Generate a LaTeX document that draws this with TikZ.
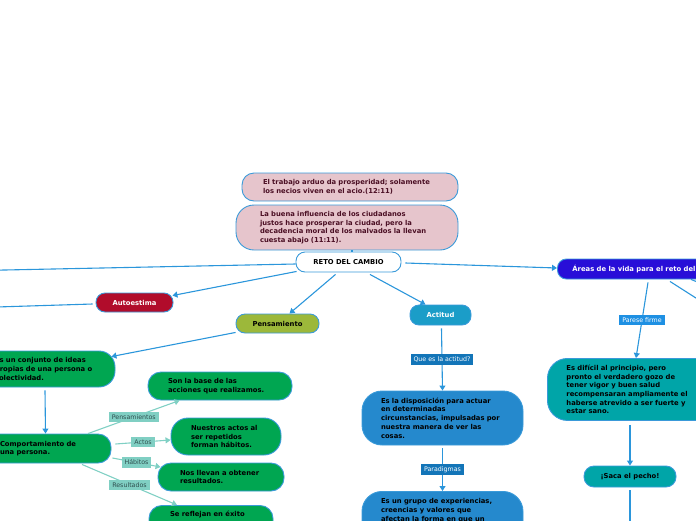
\documentclass[tikz,border=0pt]{standalone}
\usepackage{fontspec}
\setmainfont{DejaVu Sans}
\usetikzlibrary{arrows.meta,calc}
\definecolor{bordc}{RGB}{58,154,217}
\definecolor{linec}{RGB}{43,150,219}
\definecolor{pinkc}{RGB}{230,197,204}
\definecolor{pinktxt}{RGB}{75,15,36}
\definecolor{crimc}{RGB}{177,12,43}
\definecolor{olivec}{RGB}{156,184,58}
\definecolor{greenc}{RGB}{0,166,81}
\definecolor{actc}{RGB}{27,157,200}
\definecolor{dispc}{RGB}{37,137,205}
\definecolor{dlblc}{RGB}{19,117,184}
\definecolor{areac}{RGB}{40,14,216}
\definecolor{tealc}{RGB}{0,165,168}
\definecolor{parc}{RGB}{30,144,227}
\definecolor{tlblc}{RGB}{128,207,195}
\definecolor{tlbltxt}{RGB}{47,79,79}
\definecolor{tlinec}{RGB}{128,208,196}
\tikzset{
  box/.style={draw=bordc, line width=0.9pt, rounded corners=9pt, inner sep=0pt,
    font=\fontsize{6.8}{8.7}\selectfont\bfseries, align=left},
  conn/.style={draw=linec, line width=1.1pt, -{Triangle[length=5pt,width=6pt]}},
  plain/.style={draw=linec, line width=1.1pt},
  tconn/.style={draw=tlinec, line width=1.1pt, -{Triangle[length=5pt,width=6pt]}},
  tlbl/.style={fill=tlblc, text=tlbltxt, font=\fontsize{6.3}{7}\selectfont, inner xsep=3pt, inner ysep=2.5pt},
  dlbl/.style={fill=dlblc, text=white, font=\fontsize{6.3}{7}\selectfont, inner xsep=3pt, inner ysep=2.5pt},
  plbl/.style={fill=parc, text=white, font=\fontsize{6.3}{7}\selectfont, inner xsep=3pt, inner ysep=2.5pt}
}
\begin{document}
\begin{tikzpicture}[x=1pt,y=-1pt]
\useasboundingbox (0,0) rectangle (696,520);
\clip (0,0) rectangle (696,520);

% pink nodes
\node[box, fill=pinkc, text=pinktxt, minimum width=216pt, minimum height=28pt, text width=174pt, rounded corners=12pt] (p1) at (350,187)
  {El trabajo arduo da prosperidad; solamente\\los necios viven en el acio.(12:11)};
\node[box, fill=pinkc, text=pinktxt, minimum width=222pt, minimum height=45pt, text width=174pt, rounded corners=18pt] (p2) at (347,227.5)
  {La buena influencia de los ciudadanos\\justos hace prosperar la ciudad, pero la\\decadencia moral de los malvados la llevan\\cuesta abajo (11:11).};

\node[box, fill=white, text=black, minimum width=105pt, minimum height=20pt, rounded corners=9pt] (reto) at (348.5,262) {RETO DEL CAMBIO};

\node[box, fill=crimc, text=white, minimum width=77pt, minimum height=19pt] (auto) at (134.5,302.5) {Autoestima};
\node[box, fill=olivec, text=black, minimum width=83pt, minimum height=19pt] (pens) at (277.5,323.5) {Pensamiento};
\node[box, fill=actc, text=white, minimum width=61pt, minimum height=20pt] (act) at (440.5,315) {Actitud};

% green branch
\node[box, fill=greenc, text=black, minimum width=135pt, minimum height=36pt, text width=105pt, rounded corners=16pt] (conj) at (47.5,369)
  {Es un conjunto de ideas\\propias de una persona o\\colectividad.};
\node[box, fill=greenc, text=black, minimum width=131pt, minimum height=29pt, text width=91pt, rounded corners=13pt] (comp) at (45.5,448.5)
  {Comportamiento de\\una persona.};
\node[box, fill=greenc, text=black, minimum width=144pt, minimum height=28pt, text width=104pt, rounded corners=13pt] (son) at (220,386)
  {Son la base de las\\acciones que realizamos.};
\node[box, fill=greenc, text=black, minimum width=110pt, minimum height=37pt, text width=70pt, rounded corners=17pt] (nue) at (226,436.5)
  {Nuestros actos al\\ser repetidos\\forman hábitos.};
\node[box, fill=greenc, text=black, minimum width=126pt, minimum height=28pt, text width=82pt, rounded corners=13pt] (nos) at (221,477)
  {Nos llevan a obtener\\resultados.};
\node[box, fill=greenc, text=black, minimum width=124pt, inner ysep=6pt, rounded corners=13pt, anchor=north] (se) at (211,505)
  {\parbox[b][24pt][t]{82pt}{Se reflejan en éxito}};

% actitud branch
\node[box, fill=dispc, text=black, minimum width=161pt, minimum height=54pt, text width=123pt, rounded corners=20pt] (disp) at (442.5,418)
  {Es la disposición para actuar\\en determinadas\\circunstancias, impulsadas por\\nuestra manera de ver las\\cosas.};
\node[box, fill=dispc, text=black, minimum width=161pt, inner ysep=7pt, rounded corners=20pt, anchor=north] (grupo) at (442.5,491)
  {\parbox[b][40pt][t]{123pt}{Es un grupo de experiencias,\\creencias y valores que\\afectan la forma en que un}};

% areas branch
\node[box, fill=areac, text=white, minimum height=20pt, inner xsep=15pt, anchor=west] (areas) at (557,269)
  {Áreas de la vida para el reto del cambio};
\node[box, fill=tealc, text=black, minimum height=62pt, text width=150pt, inner xsep=19pt, rounded corners=20pt, anchor=north west] (fac) at (547,358)
  {Es difícil al principio, pero\\pronto el verdadero gozo de\\tener vigor y buen salud\\recompensaran ampliamente el\\haberse atrevido a ser fuerte y\\estar sano.};
\node[box, fill=tealc, text=black, minimum width=92pt, minimum height=21pt, rounded corners=10pt] (saca) at (630,476.5) {¡Saca el pecho!};

% free ends
\coordinate (offA) at (-10,270.3);
\coordinate (offB) at (-10,307.2);
\coordinate (offC) at (630,530);
\coordinate (offD) at (710,307);
\coordinate (offE) at (710,287);

% connectors
\draw[plain, line width=2pt] ($(p2.south)+(5,0)$) -- ($(reto.north)+(3.5,0)$);
\draw[plain] ($(reto.west)+(0,2)$) -- (offA);
\draw[conn] ($(reto.south west)+(1,-1)$) -- ($(auto.north east)+(-1,3)$);
\draw[plain] ($(auto.west)+(-3,1.5)$) -- (offB);
\draw[conn] ($(reto.south)+(-13,2)$) -- ($(pens.north)+(12,0)$);
\draw[conn] ($(reto.south)+(21.5,2)$) -- ($(act.north)+(-15,0)$);
\draw[conn] ($(reto.east)+(4,1)$) -- ($(areas.west)+(0,-1)$);
\draw[conn] ($(pens.south west)+(0,-1)$) -- ($(conj.north east)+(-4,6)$);
\draw[conn] ($(conj.south)+(-2.5,3)$) -- (comp.north);

\draw[tconn] ($(comp.north)+(42.5,0)$) -- node[tlbl]{Pensamientos} ($(son.south west)+(32,0)$);
\draw[tconn] ($(comp.east)+(4,-4.5)$) -- node[tlbl]{Actos} ($(nue.west)+(0,3.5)$);
\draw[tconn] ($(comp.east)+(1,9.5)$) -- node[tlbl]{Hábitos} ($(nos.west)+(3,-10)$);
\draw[tconn] ($(comp.south)+(36.5,1)$) -- node[tlbl]{Resultados} ($(se.north)+(-34,0)$);

\draw[conn] ($(act.south)+(1,3)$) -- node[dlbl]{Que es la actitud?} (disp.north);
\draw[conn] ($(disp.south)+(0,3)$) -- node[dlbl]{Paradigmas} (grupo.north);

\draw[conn] ($(areas.south west)+(91,3)$) -- node[plbl]{Parese firme} ($(fac.north west)+(89,0)$);
\draw[conn] ($(fac.south west)+(83,4)$) -- (saca.north);
\draw[plain] ($(saca.south)+(0,3)$) -- (offC);
\draw[plain] ($(areas.south west)+(113,2)$) -- (offD);
\draw[plain] ($(areas.south west)+(134,0)$) -- (offE);
\end{tikzpicture}
\end{document}
